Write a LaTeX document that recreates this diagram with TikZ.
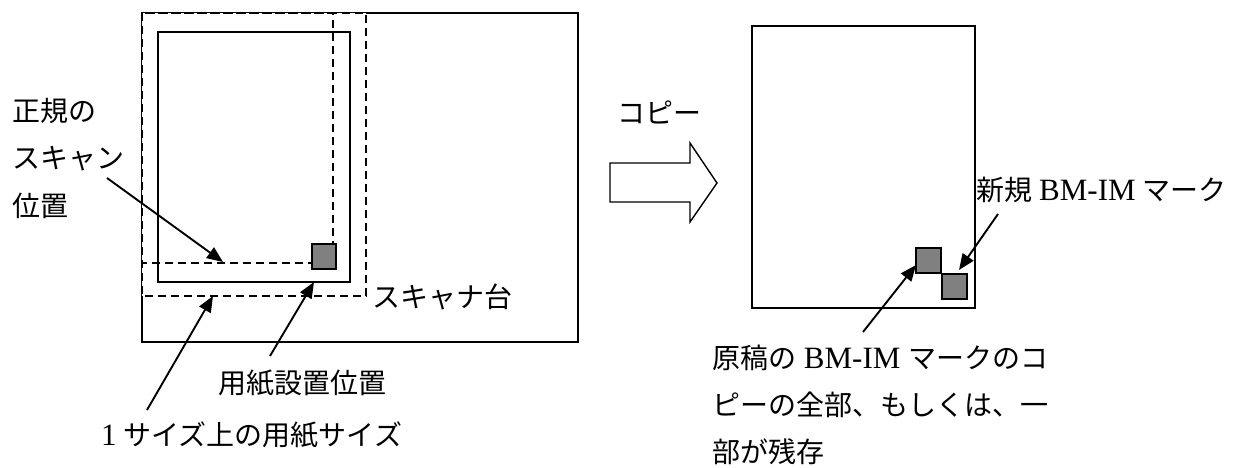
\documentclass[tikz,border=0pt]{standalone}
\usepackage{fontspec}
\setmainfont{Liberation Serif}
\newfontfamily\jp{Noto Sans CJK JP}
\usetikzlibrary{arrows.meta}
\definecolor{markgray}{RGB}{128,128,128}
\newcommand{\lat}[1]{{\fontsize{31}{31}\selectfont #1}}
\begin{document}
\begin{tikzpicture}[x=1pt,y=-1pt,
  solidline/.style={draw=black,line width=1.9pt},
  dashline/.style={draw=black,line width=1.9pt,dash pattern=on 8pt off 5pt},
  markbox/.style={draw=black,line width=1.6pt,fill=markgray},
  lbl/.style={font=\fontsize{28}{28}\selectfont,inner sep=0pt,anchor=west},
  ptr/.style={draw=black,line width=1.9pt,-{Triangle[length=16pt,width=13pt]}},
  bigarrow/.style={draw=black,line width=1.4pt,fill=white}]
\useasboundingbox (0,0) rectangle (1247,468);
% scanner platen
\draw[solidline] (142,13) rectangle (578,342);
% one-size-up paper (dashed, white fill)
\filldraw[dashline,fill=white] (142,13) rectangle (366,296);
% paper setting position
\draw[solidline] (158,32) rectangle (350,282);
% regular scan position
\draw[dashline] (142,13) rectangle (333,263);
% BM-IM mark on original
\draw[markbox] (312,244) rectangle (336,269);

% labels left
\node[lbl] (seiki1) at (12,111) {\jp 正規の};
\node[lbl] (seiki2) at (12,159) {\jp スキャン};
\node[lbl] (seiki3) at (12,206) {\jp 位置};
\node[lbl] (daiLbl) at (372,297) {\jp スキャナ台};
\node[lbl] (yoshiLbl) at (218,383) {\jp 用紙設置位置};
\node[lbl] (sizeLbl) at (101,435) {\lat{1} {\jp サイズ上の用紙サイズ}};

\coordinate (a1s) at (107,178); \coordinate (a1e) at (223,262);
\coordinate (a2s) at (147,410); \coordinate (a2e) at (213,296);
\coordinate (a3s) at (270,356); \coordinate (a3e) at (314,282);
\draw[ptr] (a1s) -- (a1e);
\draw[ptr] (a2s) -- (a2e);
\draw[ptr] (a3s) -- (a3e);

% copy block arrow
\node[lbl] (copyLbl) at (617,112) {\jp コピー};
\draw[bigarrow] (610,163) -- (690,163) -- (690,143) -- (717,183) -- (690,222) -- (690,202) -- (610,202) -- cycle;

% copied paper
\draw[solidline] (752,26) rectangle (975,308);
\draw[markbox] (916,248) rectangle (941,273);
\draw[markbox] (942,274) rectangle (967,299);

\node[lbl] (newLbl) at (976,190) {{\jp 新規} \lat{BM-IM} {\jp マーク}};
\node[lbl] (orig1) at (712,358) {{\jp 原稿の}\lat{ BM-IM }{\jp マークのコ}};
\node[lbl] (orig2) at (712,405) {\jp ピーの全部、もしくは、一};
\node[lbl] (orig3) at (712,452) {\jp 部が残存};

\coordinate (a4s) at (998,214); \coordinate (a4e) at (959,270);
\coordinate (a5s) at (863,332); \coordinate (a5e) at (916,265);
\draw[ptr] (a4s) -- (a4e);
\draw[ptr] (a5s) -- (a5e);
\end{tikzpicture}
\end{document}
